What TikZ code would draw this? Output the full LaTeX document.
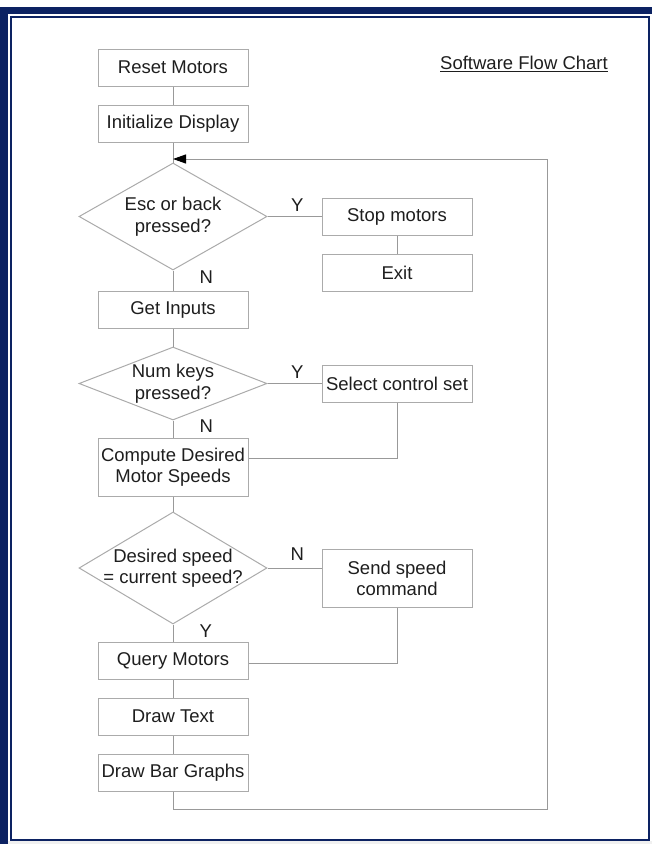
\documentclass[tikz,border=0pt]{standalone}
\usepackage{fontspec}
\setmainfont{Liberation Sans}
\usepackage{xcolor}
\usetikzlibrary{arrows.meta,shapes.geometric}
\definecolor{ink}{HTML}{1E1E1E}
\definecolor{edgegray}{HTML}{ABABAB}
\definecolor{wiregray}{HTML}{999999}
\definecolor{navy}{HTML}{0C2262}
\tikzset{
  box/.style={draw=edgegray,fill=white,line width=1pt,minimum width=150pt,minimum height=37pt,inner sep=0pt,align=center,font=\fontsize{18.5}{21.5}\selectfont,text=ink},
  tallbox/.style={box,minimum height=58pt},
  dec/.style={box,shape=diamond,minimum width=188pt,minimum height=107pt,inner xsep=-50pt,inner ysep=-15pt},
  lab/.style={font=\fontsize{18.5}{21.5}\selectfont,text=ink,inner sep=0pt},
  wire/.style={draw=wiregray,line width=1pt},
}
\begin{document}
\begin{tikzpicture}[x=1pt,y=-1pt]
  \useasboundingbox (0,0) rectangle (652,844);
  \fill[gray!12] (0,841) rectangle (652,844);
  \fill[navy] (0,7) rectangle (652,13.5);
  \fill[navy] (0,7) rectangle (8,844);
  \draw[navy,line width=2.5pt] (11,17) rectangle (649,840);
  \node[lab] (title) at (524,64) {\underline{Software Flow Chart}};
  \node[box] (reset) at (173,67.5) {Reset Motors};
  \node[box] (init) at (173,123.5) {Initialize Display};
  \node[dec] (esc) at (173,216.5) {Esc or back\\pressed?};
  \node[box] (stop) at (397,216.5) {Stop motors};
  \node[box] (exit) at (397,272.5) {Exit};
  \node[box] (inputs) at (173,309.5) {Get Inputs};
  \node[dec,minimum height=73pt] (keys) at (173,383.5) {Num keys\\pressed?};
  \node[box] (select) at (397,383.5) {Select control set};
  \node[tallbox] (compute) at (173,467) {Compute Desired\\Motor Speeds};
  \node[dec,minimum height=112pt] (same) at (173,568) {Desired speed\\= current speed?};
  \node[tallbox] (send) at (397,578.5) {Send speed\\command};
  \node[box] (query) at (173,661) {Query Motors};
  \node[box] (drawtext) at (173,716.5) {Draw Text};
  \node[box] (bars) at (173,772.5) {Draw Bar Graphs};
  \coordinate (back) at (547,809);
  \coordinate (entry) at (173,159);
  \draw[wire] (reset) -- (init);
  \draw[wire] (init) -- (esc);
  \draw[wire] (esc) -- node[lab,above=5pt,pos=0.55]{Y} (stop);
  \draw[wire] (stop) -- (exit);
  \draw[wire] (esc) -- node[lab,right=26pt,pos=0.35]{N} (inputs);
  \draw[wire] (inputs) -- (keys);
  \draw[wire] (keys) -- node[lab,above=5pt,pos=0.55]{Y} (select);
  \draw[wire] (keys) -- node[lab,right=26pt,pos=0.35]{N} (compute);
  \draw[wire] (select.south) |- ([yshift=9pt]compute.east);
  \draw[wire] (compute) -- (same);
  \draw[wire] (same.east) -- node[lab,above=7pt,pos=0.55]{N} (same.east -| send.west);
  \draw[wire] (same) -- node[lab,right=26pt,pos=0.35]{Y} (query);
  \draw[wire] (send.south) |- ([yshift=-2pt]query.east);
  \draw[wire] (query) -- (drawtext);
  \draw[wire] (drawtext) -- (bars);
  \draw[wire,-{Triangle[length=13pt,width=9pt,color=black]}] (bars.south) |- (back) |- (entry);
\end{tikzpicture}
\end{document}
